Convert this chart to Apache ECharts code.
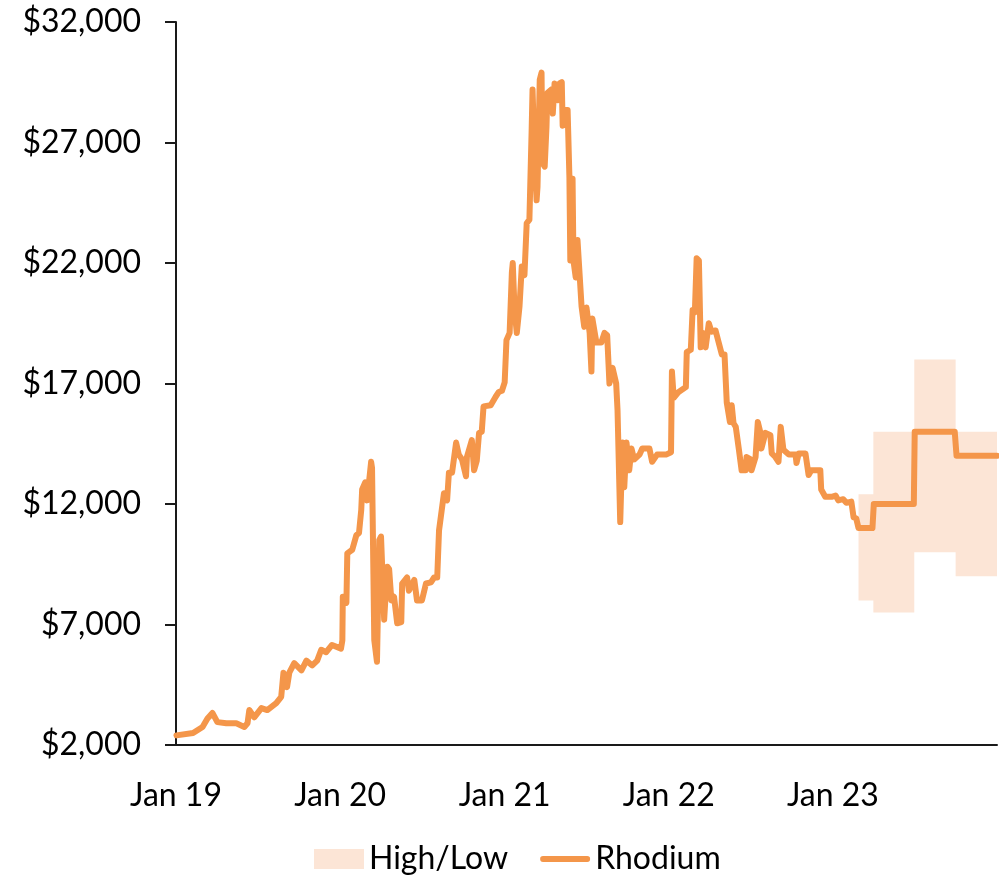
<!DOCTYPE html>
<html>
<head>
<meta charset="utf-8">
<script src="https://cdn.jsdelivr.net/npm/echarts@6/dist/echarts.min.js"></script>
<style>
  html, body { margin: 0; padding: 0; background: #ffffff; }
  #chart { width: 999px; height: 878px; }
</style>
</head>
<body>
<div id="chart"></div>
<script>
// ---- Data ----
const rhodiumDates = [
  '2019-01-02','2019-02-08','2019-03-01','2019-03-12','2019-03-23','2019-04-03','2019-04-23','2019-05-15',
  '2019-06-02','2019-06-09','2019-06-13','2019-06-24','2019-07-10','2019-07-23','2019-08-12','2019-08-23',
  '2019-08-28','2019-09-05','2019-09-10','2019-09-21','2019-10-07','2019-10-18','2019-10-31','2019-11-11',
  '2019-11-20','2019-12-01','2019-12-14','2020-01-03','2020-01-06','2020-01-07','2020-01-15','2020-01-17',
  '2020-01-28','2020-02-06','2020-02-12','2020-02-17','2020-02-19','2020-02-26','2020-03-01','2020-03-10',
  '2020-03-12','2020-03-17','2020-03-23','2020-03-28','2020-04-01','2020-04-08','2020-04-15','2020-04-19',
  '2020-04-24','2020-04-30','2020-05-07','2020-05-16','2020-05-18','2020-05-29','2020-06-02','2020-06-14',
  '2020-06-20','2020-07-01','2020-07-10','2020-07-21','2020-07-28','2020-08-04','2020-08-08','2020-08-19',
  '2020-08-26','2020-08-30','2020-09-06','2020-09-15','2020-09-21','2020-09-28','2020-10-07','2020-10-09',
  '2020-10-20','2020-10-25','2020-10-31','2020-11-05','2020-11-11','2020-11-15','2020-12-01','2020-12-12',
  '2020-12-19','2020-12-26','2021-01-01','2021-01-05','2021-01-12','2021-01-17','2021-01-19','2021-01-23',
  '2021-01-28','2021-02-03','2021-02-08','2021-02-14','2021-02-19','2021-02-25','2021-03-02','2021-03-04',
  '2021-03-08','2021-03-13','2021-03-15','2021-03-20','2021-03-24','2021-03-26','2021-03-31','2021-04-04',
  '2021-04-06','2021-04-15','2021-04-18','2021-04-22','2021-04-29','2021-05-03','2021-05-08','2021-05-10',
  '2021-05-16','2021-05-21','2021-05-25','2021-05-27','2021-06-01','2021-06-03','2021-06-08','2021-06-12',
  '2021-06-21','2021-06-27','2021-07-02','2021-07-09','2021-07-13','2021-07-15','2021-07-24','2021-08-04',
  '2021-08-11','2021-08-17','2021-08-22','2021-08-29','2021-09-06','2021-09-09','2021-09-15','2021-09-20',
  '2021-09-24','2021-09-29','2021-10-05','2021-10-10','2021-10-16','2021-10-28','2021-11-03','2021-11-19',
  '2021-11-25','2021-12-06','2021-12-26','2022-01-06','2022-01-08','2022-01-12','2022-01-23','2022-02-08',
  '2022-02-10','2022-02-19','2022-02-23','2022-02-28','2022-03-04','2022-03-09','2022-03-13','2022-03-18',
  '2022-03-24','2022-03-31','2022-04-06','2022-04-15','2022-04-22','2022-04-29','2022-05-05','2022-05-10',
  '2022-05-17','2022-05-21','2022-05-25','2022-05-30','2022-06-06','2022-06-12','2022-06-21','2022-06-23',
  '2022-07-02','2022-07-04','2022-07-13','2022-07-18','2022-07-24','2022-07-26','2022-08-04','2022-08-15',
  '2022-08-18','2022-08-26','2022-09-02','2022-09-07','2022-09-13','2022-09-25','2022-10-10','2022-10-12',
  '2022-10-17','2022-11-01','2022-11-08','2022-11-14','2022-12-04','2022-12-06','2022-12-15','2022-12-29',
  '2023-01-07','2023-01-13','2023-01-24','2023-01-31','2023-02-11','2023-02-16','2023-02-22','2023-02-27',
  '2023-03-30','2023-04-02','2023-06-30','2023-07-02','2023-09-29','2023-10-03','2024-01-01'
];
const rhodiumValues = [
  2400,2500,2750,3100,3330,2950,2900,2900,
  2750,2900,3450,3150,3530,3450,3740,4000,
  5000,4400,5000,5400,5100,5500,5300,5500,
  5950,5850,6150,6000,6350,8150,7900,9950,
  10100,10700,10800,11750,12600,12900,12150,13750,
  13500,6350,5450,10500,10650,7200,9400,9300,
  8000,8150,7050,7100,8700,8950,8400,8850,
  8000,8000,8700,8750,8950,8950,10900,12450,
  12150,13300,13300,14550,14050,13850,13150,13950,
  14650,13400,13800,14950,15000,16050,16100,16450,
  16650,16700,17050,18800,19100,21600,22000,20050,
  19100,20200,21850,21500,23650,23800,27500,29200,
  26700,24600,25150,29600,29900,26150,26000,27650,
  29050,29200,28200,29450,28750,29450,29500,27700,
  28350,28350,25550,22100,25500,22100,21400,22950,
  20200,19350,20150,19100,17500,19700,18700,18700,
  19100,19000,17000,17650,17000,15900,11250,14550,
  12700,14550,13400,14300,13850,14050,14300,14300,
  13750,14050,14050,14150,17500,16400,16650,16850,
  18300,18400,20050,19950,22200,22100,18500,19100,
  18500,19500,19150,19200,18700,18200,18200,16200,
  15400,16100,15350,15200,14250,13400,13400,13950,
  13850,13400,13950,15400,14950,14300,14950,14850,
  14100,13950,13750,15200,14250,14050,14050,13700,
  14100,14100,13200,13400,13400,12600,12300,12300,
  12350,12150,12200,12050,12100,11450,11400,11000,
  11000,12000,12000,15000,15000,14000,14000
];

const bandDates = ['2023-02-27','2023-04-01','2023-07-01','2023-10-01','2024-01-01'];
const bandLow   = [8000, 7500, 10000, 9000, 9000];
const bandHigh  = [12400, 15000, 18000, 15000, 15000];

const xTickLabels = { 2019: 'Jan 19', 2020: 'Jan 20', 2021: 'Jan 21', 2022: 'Jan 22', 2023: 'Jan 23' };
const yTicks = [2000, 7000, 12000, 17000, 22000, 27000, 32000];

// ---- Chart ----
const LINE = '#F4964A';
const BAND = '#FCE5D6';
const FONT = 'Lato';

const chart = echarts.init(document.getElementById('chart'), null, { renderer: 'canvas' });

const rhodiumData = rhodiumDates.map((d, i) => [d, rhodiumValues[i]]);
const lowData = bandDates.map((d, i) => [d, bandLow[i]]);
const spanData = bandDates.map((d, i) => [d, bandHigh[i] - bandLow[i]]);

chart.setOption({
  animation: false,
  backgroundColor: '#ffffff',
  textStyle: { fontFamily: FONT },
  grid: { left: 176, right: 2, top: 22, bottom: 133, containLabel: false },
  legend: {
    left: 309,
    top: 838,
    itemWidth: 50,
    itemHeight: 20,
    itemGap: 32,
    symbolKeepAspect: true,
    textStyle: { fontFamily: FONT, fontSize: 32, color: '#000000' },
    data: [
      { name: 'High/Low', icon: 'rect', itemStyle: { color: BAND } },
      { name: 'Rhodium', icon: 'path://M3,0 L49,0 A3,3 0 0 1 49,6 L3,6 A3,3 0 0 1 3,0 Z',
        itemStyle: { color: LINE } }
    ]
  },
  xAxis: {
    type: 'time',
    min: '2019-01-01',
    max: '2024-01-01',
    minInterval: 365 * 24 * 3600 * 1000,
    splitNumber: 5,
    axisLine: { show: true, lineStyle: { color: '#1a1a1a', width: 2 } },
    axisTick: { show: false },
    splitLine: { show: false },
    axisLabel: {
      fontFamily: FONT,
      fontSize: 32,
      color: '#000000',
      margin: 35,
      showMaxLabel: false,
      hideOverlap: false,
      formatter: function (v) {
        const d = new Date(v);
        if (d.getMonth() === 0 && d.getDate() === 1 && xTickLabels[d.getFullYear()]) {
          return xTickLabels[d.getFullYear()];
        }
        return '';
      }
    }
  },
  yAxis: {
    type: 'value',
    min: yTicks[0],
    max: yTicks[yTicks.length - 1],
    interval: yTicks[1] - yTicks[0],
    axisLine: { show: true, lineStyle: { color: '#1a1a1a', width: 2 } },
    axisTick: { show: true, length: 11, lineStyle: { color: '#1a1a1a', width: 2 } },
    splitLine: { show: false },
    axisLabel: {
      fontFamily: FONT,
      fontSize: 32,
      color: '#000000',
      margin: 35,
      formatter: function (v) { return '$' + v.toLocaleString('en-US'); }
    }
  },
  series: [
    {
      name: 'base',
      type: 'line',
      stack: 'band',
      step: 'end',
      data: lowData,
      symbol: 'none',
      lineStyle: { width: 0, opacity: 0 },
      silent: true,
      z: 1
    },
    {
      name: 'High/Low',
      type: 'line',
      stack: 'band',
      step: 'end',
      data: spanData,
      symbol: 'none',
      itemStyle: { color: BAND },
      lineStyle: { width: 0, opacity: 0 },
      areaStyle: { color: BAND, opacity: 1 },
      silent: true,
      z: 1
    },
    {
      name: 'Rhodium',
      type: 'line',
      data: rhodiumData,
      symbol: 'none',
      itemStyle: { color: LINE },
      lineStyle: { color: LINE, width: 6, cap: 'round', join: 'round' },
      z: 3
    }
  ]
});
</script>
</body>
</html>
